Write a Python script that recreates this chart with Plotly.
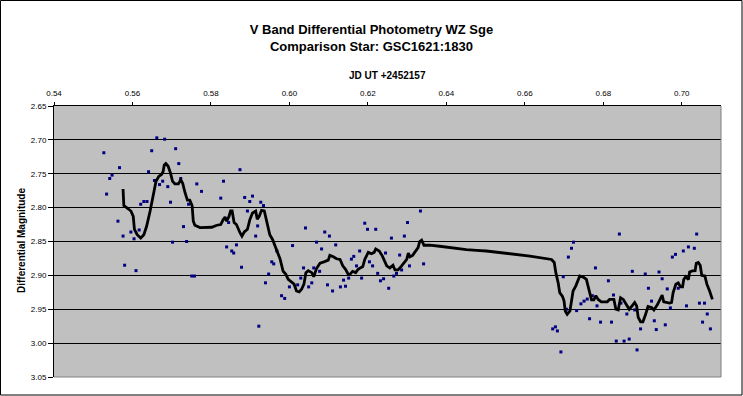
import plotly.graph_objects as go

# Observed photometry points (JD fraction, differential magnitude)
obs_x = [0.5527, 0.5534, 0.5542, 0.5548, 0.5563, 0.5567, 0.5576, 0.5580, 0.5596, 0.5604,
         0.5609, 0.5617, 0.5621, 0.5629, 0.5637, 0.5641, 0.5649, 0.5656, 0.5662, 0.5669,
         0.5677, 0.5682, 0.5690, 0.5697, 0.5702, 0.5710, 0.5718, 0.5723, 0.5730, 0.5738,
         0.5743, 0.5751, 0.5758, 0.5764, 0.5776, 0.5825, 0.5832, 0.5840, 0.5845, 0.5853,
         0.5858, 0.5865, 0.5874, 0.5878, 0.5886, 0.5893, 0.5899, 0.5906, 0.5914, 0.5919,
         0.5922, 0.5927, 0.5934, 0.5939, 0.5947, 0.5955, 0.5960, 0.5968, 0.5980, 0.5988,
         0.6000, 0.6008, 0.6021, 0.6029, 0.6036, 0.6041, 0.6049, 0.6057, 0.6062, 0.6069,
         0.6077, 0.6082, 0.6090, 0.6097, 0.6102, 0.6110, 0.6118, 0.6130, 0.6138, 0.6143,
         0.6151, 0.6158, 0.6164, 0.6171, 0.6179, 0.6184, 0.6192, 0.6199, 0.6204, 0.6212,
         0.6220, 0.6225, 0.6232, 0.6240, 0.6245, 0.6253, 0.6260, 0.6266, 0.6273, 0.6281,
         0.6286, 0.6293, 0.6301, 0.6306, 0.6334, 0.6342, 0.6671, 0.6678, 0.6683, 0.6692,
         0.6698, 0.6706, 0.6711, 0.6719, 0.6724, 0.6732, 0.6743, 0.6751, 0.6759, 0.6765,
         0.6772, 0.6780, 0.6784, 0.6793, 0.6813, 0.6821, 0.6826, 0.6833, 0.6841, 0.6845,
         0.6853, 0.6860, 0.6866, 0.6874, 0.6880, 0.6886, 0.6895, 0.6907, 0.6915, 0.6923,
         0.6930, 0.6935, 0.6942, 0.6950, 0.6958, 0.6963, 0.6971, 0.6976, 0.6984, 0.6991,
         0.7004, 0.7012, 0.7017, 0.7032, 0.7038, 0.7045, 0.7053, 0.7058, 0.7065, 0.7073]
obs_mag = [2.719, 2.780, 2.757, 2.752, 2.820, 2.741, 2.842, 2.885, 2.836, 2.846,
           2.893, 2.833, 2.795, 2.791, 2.791, 2.747, 2.716, 2.760, 2.697, 2.766,
           2.761, 2.699, 2.769, 2.792, 2.851, 2.713, 2.735, 2.757, 2.828, 2.850,
           2.795, 2.901, 2.901, 2.765, 2.776, 2.786, 2.761, 2.858, 2.822, 2.864,
           2.867, 2.855, 2.744, 2.888, 2.785, 2.805, 2.791, 2.783, 2.842, 2.827,
           2.975, 2.792, 2.797, 2.911, 2.898, 2.880, 2.883, 2.864, 2.930, 2.934,
           2.917, 2.856, 2.914, 2.904, 2.889, 2.830, 2.917, 2.911, 2.889, 2.851,
           2.894, 2.861, 2.836, 2.914, 2.842, 2.923, 2.855, 2.917, 2.907, 2.916,
           2.904, 2.876, 2.872, 2.886, 2.864, 2.904, 2.823, 2.832, 2.880, 2.886,
           2.832, 2.897, 2.908, 2.905, 2.867, 2.919, 2.845, 2.901, 2.897, 2.870,
           2.892, 2.842, 2.822, 2.886, 2.805, 2.883, 2.979, 2.976, 2.982, 3.013,
           2.902, 2.950, 2.873, 2.860, 2.851, 2.952, 2.942, 2.938, 2.935, 2.964,
           2.930, 2.889, 2.945, 2.969, 2.908, 2.969, 2.929, 2.997, 2.839, 2.941,
           2.997, 2.957, 2.994, 2.894, 2.951, 3.010, 2.979, 2.898, 2.919, 2.938,
           2.967, 2.980, 2.895, 2.905, 2.973, 2.920, 2.948, 2.873, 2.869, 2.919,
           2.864, 2.945, 2.858, 2.860, 2.839, 2.941, 2.969, 2.941, 2.957, 2.979]

# Smoothed curve
smooth_x = [0.5576, 0.5578, 0.5585, 0.5596, 0.5602, 0.5605, 0.5612, 0.5621, 0.5629, 0.5636,
            0.5645, 0.5653, 0.5660, 0.5667, 0.5674, 0.5678, 0.5681, 0.5685, 0.5691, 0.5697,
            0.5702, 0.5708, 0.5717, 0.5723, 0.5728, 0.5734, 0.5740, 0.5746, 0.5752, 0.5755,
            0.5759, 0.5772, 0.5802, 0.5815, 0.5825, 0.5831, 0.5836, 0.5840, 0.5846, 0.5850,
            0.5854, 0.5859, 0.5865, 0.5874, 0.5879, 0.5885, 0.5893, 0.5899, 0.5906, 0.5914,
            0.5918, 0.5923, 0.5929, 0.5936, 0.5942, 0.5950, 0.5957, 0.5966, 0.5976, 0.5984,
            0.5991, 0.5997, 0.6006, 0.6012, 0.6018, 0.6025, 0.6031, 0.6037, 0.6042, 0.6048,
            0.6057, 0.6062, 0.6069, 0.6078, 0.6088, 0.6099, 0.6103, 0.6112, 0.6120, 0.6129,
            0.6136, 0.6143, 0.6150, 0.6154, 0.6161, 0.6169, 0.6175, 0.6187, 0.6192, 0.6201,
            0.6209, 0.6216, 0.6220, 0.6229, 0.6237, 0.6248, 0.6256, 0.6264, 0.6269, 0.6277,
            0.6286, 0.6294, 0.6299, 0.6303, 0.6307, 0.6314, 0.6322, 0.6328, 0.6332, 0.6337,
            0.6343, 0.6358, 0.6383, 0.6417, 0.6451, 0.6477, 0.6502, 0.6613, 0.6643, 0.6668,
            0.6675, 0.6679, 0.6685, 0.6689, 0.6696, 0.6700, 0.6703, 0.6708, 0.6715, 0.6719,
            0.6723, 0.6730, 0.6736, 0.6740, 0.6749, 0.6757, 0.6761, 0.6766, 0.6770, 0.6776,
            0.6781, 0.6787, 0.6795, 0.6810, 0.6816, 0.6827, 0.6832, 0.6838, 0.6844, 0.6851,
            0.6859, 0.6866, 0.6872, 0.6880, 0.6885, 0.6889, 0.6895, 0.6901, 0.6907, 0.6914,
            0.6923, 0.6929, 0.6938, 0.6944, 0.6950, 0.6954, 0.6961, 0.6969, 0.6974, 0.6978,
            0.6985, 0.6991, 0.6997, 0.7002, 0.7005, 0.7010, 0.7017, 0.7020, 0.7027, 0.7034,
            0.7037, 0.7042, 0.7047, 0.7051, 0.7059, 0.7064, 0.7071, 0.7078]
smooth_mag = [2.7725, 2.797, 2.800, 2.805, 2.813, 2.832, 2.840, 2.845, 2.840, 2.8275,
              2.805, 2.783, 2.761, 2.754, 2.751, 2.747, 2.737, 2.735, 2.739, 2.749,
              2.761, 2.765, 2.765, 2.759, 2.764, 2.778, 2.789, 2.789, 2.797, 2.820,
              2.826, 2.8295, 2.829, 2.826, 2.825, 2.818, 2.814, 2.820, 2.813, 2.805,
              2.805, 2.822, 2.825, 2.837, 2.842, 2.836, 2.832, 2.818, 2.808, 2.805,
              2.817, 2.813, 2.804, 2.805, 2.822, 2.840, 2.847, 2.862, 2.8755, 2.894,
              2.8985, 2.906, 2.910, 2.913, 2.923, 2.9245, 2.9205, 2.913, 2.896, 2.893,
              2.896, 2.902, 2.890, 2.882, 2.880, 2.8775, 2.8705, 2.8725, 2.8755, 2.8765,
              2.886, 2.891, 2.8985, 2.8985, 2.894, 2.896, 2.891, 2.887, 2.8765, 2.866,
              2.868, 2.866, 2.861, 2.864, 2.8715, 2.886, 2.889, 2.885, 2.892, 2.892,
              2.886, 2.881, 2.8765, 2.867, 2.8725, 2.8705, 2.864, 2.859, 2.850, 2.848,
              2.8555, 2.8555, 2.857, 2.860, 2.862, 2.863, 2.864, 2.8715, 2.874, 2.8765,
              2.881, 2.896, 2.911, 2.9255, 2.931, 2.938, 2.9525, 2.9575, 2.9525, 2.940,
              2.923, 2.9155, 2.906, 2.901, 2.9025, 2.906, 2.9155, 2.930, 2.936, 2.936,
              2.930, 2.9355, 2.939, 2.939, 2.9355, 2.9355, 2.950, 2.951, 2.933, 2.9355,
              2.943, 2.950, 2.946, 2.940, 2.945, 2.962, 2.9685, 2.9685, 2.959, 2.946,
              2.9475, 2.951, 2.943, 2.9355, 2.929, 2.939, 2.940, 2.941, 2.940, 2.9255,
              2.913, 2.911, 2.917, 2.917, 2.906, 2.902, 2.906, 2.895, 2.8935, 2.893,
              2.882, 2.881, 2.885, 2.900, 2.901, 2.913, 2.923, 2.9355]

x_ticks = [0.54, 0.56, 0.58, 0.60, 0.62, 0.64, 0.66, 0.68, 0.70]
y_ticks = [2.65, 2.70, 2.75, 2.80, 2.85, 2.90, 2.95, 3.00, 3.05]

FONT = "Liberation Sans, Arial, sans-serif"

fig = go.Figure()
fig.add_trace(go.Scatter(x=obs_x, y=obs_mag, mode="markers",
                         marker=dict(symbol="square", size=3, color="#000080",
                                     line=dict(width=0)),
                         showlegend=False))
fig.add_trace(go.Scatter(x=smooth_x, y=smooth_mag, mode="lines",
                         line=dict(color="black", width=2.8),
                         showlegend=False))

W, H = 743, 396
L, R, T, B = 54, 721, 106, 377
pw, ph = R - L, B - T


def px(xp):
    return (xp - L) / pw


def py(yp):
    return (B - yp) / ph


fig.update_layout(
    width=W, height=H,
    margin=dict(l=L, r=W - R, t=T, b=H - B, autoexpand=False),
    paper_bgcolor="white", plot_bgcolor="#C0C0C0",
    font=dict(family=FONT, size=8, color="black"),
    title=dict(text="V Band Differential Photometry WZ Sge<br>Comparison Star: GSC1621:1830",
               x=0.5, xref="container", xanchor="center",
               y=1 - 34 / H, yref="container", yanchor="middle",
               font=dict(family=FONT, size=13, color="black", weight="bold")),
    xaxis=dict(range=[0.54, 0.71], side="top", tickvals=x_ticks, tickformat=".2f",
               showgrid=False, zeroline=False, showline=True, linecolor="black",
               linewidth=1, ticks="outside", ticklen=3, tickcolor="black",
               ticklabelstandoff=3, automargin=False,
               tickfont=dict(family=FONT, size=8, color="black")),
    yaxis=dict(range=[3.05, 2.65], tickvals=y_ticks, tickformat=".2f",
               showgrid=True, gridcolor="black", gridwidth=1, zeroline=False,
               showline=True, linecolor="black", linewidth=1, ticks="outside",
               ticklen=5, tickcolor="black", automargin=False,
               tickfont=dict(family=FONT, size=8, color="black")),
    annotations=[
        dict(text="<b>JD UT +2452157</b>", xref="paper", yref="paper",
             x=0.5, y=py(76), xanchor="center", yanchor="middle", showarrow=False,
             font=dict(family=FONT, size=10, color="black")),
        dict(text="<b>Differential Magnitude</b>", xref="paper", yref="paper",
             x=px(21), y=py(241), xanchor="center", yanchor="middle", showarrow=False,
             textangle=-90, font=dict(family=FONT, size=10, color="black")),
    ],
    shapes=[
        dict(type="line", xref="paper", yref="paper", x0=1, x1=1, y0=0, y1=1,
             line=dict(color="#808080", width=1)),
        dict(type="line", xref="paper", yref="paper", x0=0, x1=1, y0=0, y1=0,
             line=dict(color="#808080", width=1)),
        dict(type="rect", xref="paper", yref="paper", x0=px(0.5), x1=px(742),
             y0=py(395), y1=py(0.5), line=dict(color="black", width=1),
             fillcolor="rgba(0,0,0,0)"),
    ],
)

fig.write_html("out.html",
               config={"displayModeBar": False},
               post_script="document.body.style.margin='0';"
                           "document.body.style.overflow='hidden';")
